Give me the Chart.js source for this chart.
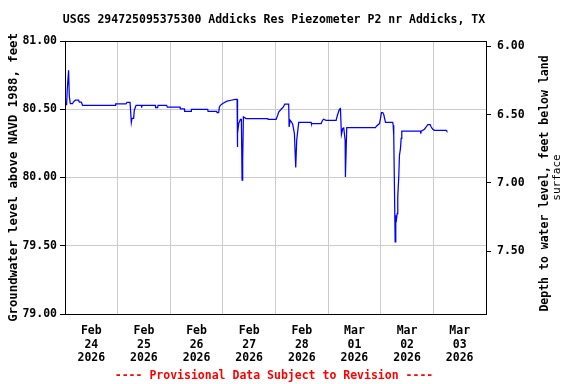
<!DOCTYPE html>
<html><head><meta charset="utf-8">
<script src="https://cdn.jsdelivr.net/npm/chart.js@4/dist/chart.umd.min.js"></script>
<style>html,body{margin:0;padding:0;background:#fff;overflow:hidden}canvas{display:block}</style>
</head><body>
<canvas id="c" width="576" height="384"></canvas>
<script>
// Hours since 2026-02-24 00:00
const hours = [0,0.73,1.05,1.64,1.96,2.42,3.47,3.79,4.70,6.21,6.52,7.44,8.03,22.95,23.09,27.83,28.29,29.66,30.25,30.57,31.30,31.62,32.40,34.86,34.95,35.13,41.20,41.34,42.25,42.43,46.36,46.68,52.47,52.61,54.43,54.57,57.49,57.63,65.07,65.25,69.17,69.35,70.08,70.40,70.86,71.91,73.92,75.74,77.70,78.48,78.62,78.75,79.21,79.99,80.44,80.76,81.03,81.36,82.59,92.44,92.62,96.27,97.00,97.46,98.56,99.60,100.20,102.02,102.20,102.66,103.26,103.85,104.62,105.22,105.67,106.59,112.24,112.38,116.80,117.26,117.86,119.09,123.65,124.24,124.84,125.16,125.61,126.07,126.66,127.12,127.76,127.89,128.49,141.58,142.04,143.41,143.87,144.32,144.92,145.37,146.15,149.48,149.66,149.93,150.25,150.57,150.85,151.03,151.48,151.76,152.21,152.53,152.99,153.31,153.59,162.12,162.26,162.44,163.94,164.72,165.45,166.54,167.00,167.73,168.50,173.84,174.12];
// Groundwater level above NAVD 1988, feet
const levels = [80.534,80.534,80.652,80.785,80.595,80.542,80.542,80.553,80.566,80.566,80.553,80.553,80.529,80.529,80.539,80.539,80.551,80.551,80.403,80.434,80.434,80.493,80.529,80.529,80.512,80.529,80.529,80.512,80.512,80.529,80.529,80.515,80.515,80.502,80.502,80.485,80.485,80.500,80.500,80.485,80.485,80.476,80.476,80.515,80.529,80.542,80.559,80.566,80.573,80.573,80.224,80.322,80.395,80.425,80.425,79.980,80.127,80.444,80.432,80.432,80.425,80.425,80.456,80.480,80.500,80.517,80.537,80.537,80.370,80.419,80.407,80.390,80.322,80.073,80.273,80.403,80.403,80.395,80.395,80.412,80.427,80.419,80.419,80.456,80.485,80.500,80.505,80.315,80.359,80.363,80.273,80.004,80.366,80.366,80.376,80.395,80.432,80.476,80.476,80.461,80.403,80.403,80.383,80.310,79.919,79.529,79.724,79.673,79.736,79.858,80.004,80.163,80.212,80.286,80.339,80.339,80.322,80.339,80.354,80.370,80.388,80.388,80.370,80.354,80.346,80.346,80.339];
const dayLabels = [["Feb","24","2026"],["Feb","25","2026"],["Feb","26","2026"],["Feb","27","2026"],["Feb","28","2026"],["Mar","01","2026"],["Mar","02","2026"],["Mar","03","2026"]];
const labelHours = [12,36,60,84,108,132,156,180];
const leftTicks = [79.0,79.5,80.0,80.5,81.0];
const rightTicks = [6.0,6.5,7.0,7.5];
const datum = 86.96; // level + depth
const titleText = "USGS 294725095375300 Addicks Res Piezometer P2 nr Addicks, TX";
const leftTitle = "Groundwater level above NAVD 1988, feet";
const rightTitle1 = "Depth to water level, feet below land";
const rightTitle2 = "surface";
const footerText = "---- Provisional Data Subject to Revision ----";

const MONO = '"DejaVu Sans Mono", "Liberation Mono", monospace';
const tickFont = {family: MONO, size: 11.5, weight: 'bold', lineHeight: 1.2};

const textPlugin = {
  id: 'texts',
  afterDraw(chart) {
    const ctx = chart.ctx;
    const a = chart.chartArea;
    ctx.save();
    ctx.strokeStyle = '#000';
    ctx.lineWidth = 1;
    ctx.strokeRect(Math.round(a.left) + 0.5, Math.round(a.top) + 0.5, Math.round(a.right - a.left), Math.round(a.bottom - a.top));
    ctx.fillStyle = '#000';
    ctx.font = 'bold 11.5px ' + MONO;
    ctx.textAlign = 'center';
    ctx.textBaseline = 'middle';
    ctx.fillText(titleText, 274, 20);
    ctx.fillStyle = '#ff0000';
    ctx.fillText(footerText, 274, 376);
    ctx.fillStyle = '#000';
    const cy = (a.top + a.bottom) / 2;
    ctx.translate(545, cy + 6);
    ctx.rotate(-Math.PI / 2);
    ctx.fillText(rightTitle1, 0, 0);
    ctx.restore();
    ctx.save();
    ctx.fillStyle = '#000';
    ctx.font = '11px ' + MONO;
    ctx.textAlign = 'center';
    ctx.textBaseline = 'middle';
    ctx.translate(557, cy);
    ctx.rotate(-Math.PI / 2);
    ctx.fillText(rightTitle2, 0, 0);
    ctx.restore();
  }
};

new Chart(document.getElementById('c'), {
  type: 'line',
  data: {
    datasets: [{
      data: hours.map((h, i) => ({x: h, y: levels[i]})),
      borderColor: '#0000ff',
      borderWidth: 1.25,
      pointRadius: 0,
      tension: 0,
      fill: false,
      yAxisID: 'y'
    }]
  },
  options: {
    responsive: false,
    animation: false,
    devicePixelRatio: 1,
    layout: {padding: {top: 41, left: 0, right: 0, bottom: 0}},
    plugins: {legend: {display: false}, tooltip: {enabled: false}, title: {display: false}},
    scales: {
      x: {
        type: 'linear', position: 'bottom', min: 0, max: 192,
        afterBuildTicks: s => { s.ticks = labelHours.map(v => ({value: v})); },
        afterFit: s => { s.height = 70; },
        ticks: {
          autoSkip: false, maxRotation: 0, minRotation: 0, padding: 10,
          color: '#000', font: tickFont,
          callback: (v, i) => dayLabels[i]
        },
        grid: {offset: true, color: '#cccccc', lineWidth: 1, drawTicks: false},
        border: {display: true, color: '#000', width: 1}
      },
      y: {
        type: 'linear', position: 'left', min: 79, max: 81,
        afterBuildTicks: s => { s.ticks = leftTicks.map(v => ({value: v})); },
        afterFit: s => { s.width = 65; },
        ticks: {color: '#000', font: tickFont, padding: 3, callback: v => Number(v).toFixed(2)},
        grid: {color: '#cccccc', lineWidth: 1, tickLength: 5, tickColor: '#000'},
        border: {display: true, color: '#000', width: 1},
        title: {display: true, text: leftTitle, color: '#000', font: {family: MONO, size: 12.3, weight: 'bold'}, padding: {top: 6, bottom: 0}}
      },
      y2: {
        type: 'linear', position: 'right', reverse: true, min: datum - 81, max: datum - 79,
        afterBuildTicks: s => { s.ticks = rightTicks.map(v => ({value: v})); },
        afterFit: s => { s.width = 90; },
        ticks: {color: '#000', font: tickFont, padding: 6, callback: v => Number(v).toFixed(2)},
        grid: {drawOnChartArea: false, tickLength: 5, tickColor: '#000', color: '#000'},
        border: {display: true, color: '#000', width: 1}
      }
    }
  },
  plugins: [textPlugin]
});
</script>
</body></html>
